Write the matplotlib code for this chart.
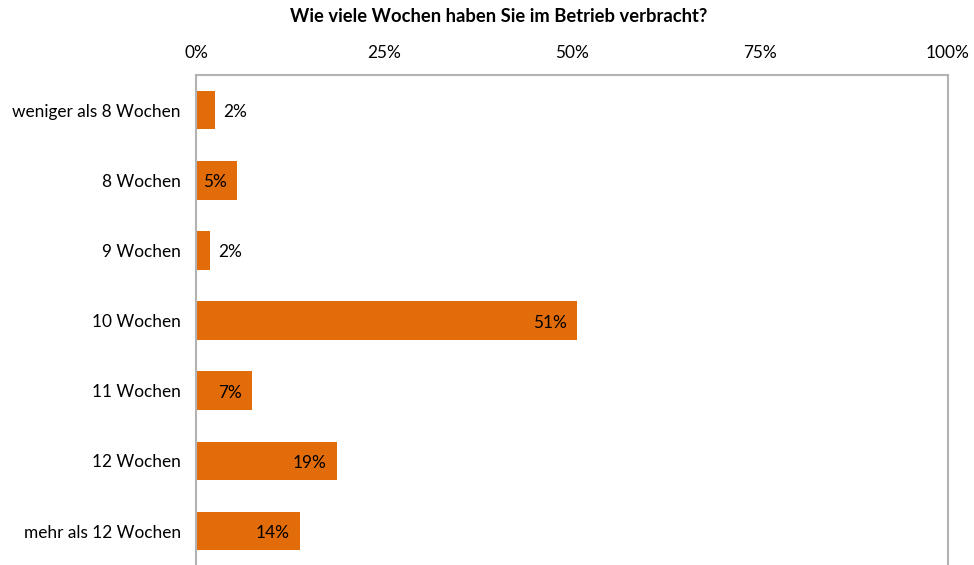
import matplotlib.pyplot as plt

plt.rcParams['font.family'] = ['Lato', 'DejaVu Sans']

categories = ["weniger als 8 Wochen", "8 Wochen", "9 Wochen", "10 Wochen",
              "11 Wochen", "12 Wochen", "mehr als 12 Wochen"]
shares = [2.5, 5.4, 1.9, 50.6, 7.4, 18.7, 13.8]
labels = ["2%", "5%", "2%", "51%", "7%", "19%", "14%"]
ticks = [0, 25, 50, 75, 100]

fig = plt.figure(figsize=(9.74, 5.65), dpi=100)
ax = fig.add_axes([196 / 974, -0.002, (948 - 196) / 974, 1 - 75 / 565 + 0.002])

ypos = range(len(categories))
bars = ax.barh(ypos, shares, height=0.55, color='#E36C0A')

for bar, txt, val in zip(bars, labels, shares):
    y = bar.get_y() + bar.get_height() / 2
    if val < 4:
        ax.annotate(txt, (val, y), xytext=(6, -1.5), textcoords='offset points',
                    ha='left', va='center', fontsize=12.4)
    else:
        ax.annotate(txt, (val, y), xytext=(-7, -1.5), textcoords='offset points',
                    ha='right', va='center', fontsize=12.4)

ax.set_xlim(0, 100)
ax.set_ylim(len(categories) - 0.5, -0.5)
ax.set_yticks(list(ypos))
ax.set_yticklabels(categories, fontsize=12.4)
ax.set_xticks(ticks)
ax.set_xticklabels([f"{t}%" for t in ticks], fontsize=12.4)
ax.xaxis.tick_top()
ax.tick_params(axis='x', length=0, pad=10)
ax.tick_params(axis='y', length=0, pad=11)

for side in ['left', 'top', 'right']:
    ax.spines[side].set_color('#B3B3B3')
    ax.spines[side].set_linewidth(1.5)
ax.spines['bottom'].set_visible(False)

fig.text(0.512, 1 - 16 / 565, "Wie viele Wochen haben Sie im Betrieb verbracht?",
         ha='center', va='center', fontsize=13.2, fontweight='bold')

fig.savefig('out.png', dpi=100)
